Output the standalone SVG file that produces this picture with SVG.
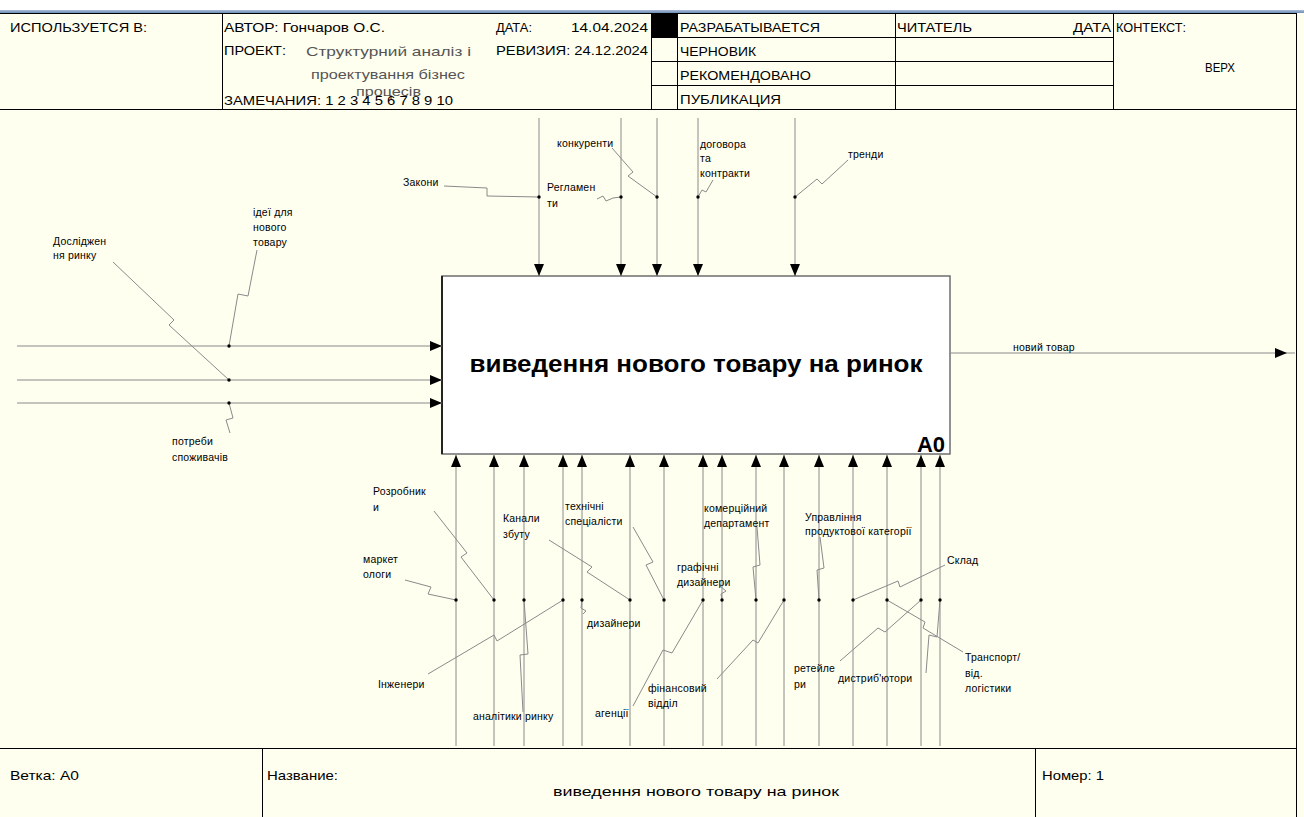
<svg xmlns="http://www.w3.org/2000/svg" width="1304" height="817" viewBox="0 0 1304 817">
<defs>
<marker id="ah" viewBox="0 0 12 10" refX="12" refY="5" markerWidth="12" markerHeight="10" markerUnits="userSpaceOnUse" orient="auto"><path d="M0,0 L12,5 L0,10 z" fill="#000"/></marker>
<linearGradient id="topbar" x1="0" y1="0" x2="0" y2="1"><stop offset="0" stop-color="#a9bcd6"/><stop offset="1" stop-color="#6f8db5"/></linearGradient>
</defs>
<style>
.hd{font-family:"Liberation Sans",Arial,sans-serif;font-size:13px;fill:#000}
.pj{font-family:"Liberation Sans",Arial,sans-serif;font-size:13.5px;fill:#555}
.lb{font-family:"Liberation Sans",Arial,sans-serif;font-size:10.5px;letter-spacing:0.2px;fill:#000}
.ar{fill:none;stroke:#8a8a8a;stroke-width:1;marker-end:url(#ah)}
.ld{fill:none;stroke:#8a8a8a;stroke-width:1}
.gl{stroke:#000;stroke-width:1;fill:none}
.dt{fill:#000}
</style>
<rect x="0" y="0" width="1304" height="817" fill="#fffff0"/>
<rect x="0" y="0" width="1304" height="10" fill="#ffffff"/>
<rect x="0" y="10" width="1304" height="3" fill="url(#topbar)"/>

<g id="header">
<line class="gl" x1="0" y1="13.5" x2="1296" y2="13.5"/>
<line class="gl" x1="0" y1="109.5" x2="1296" y2="109.5"/>
<line class="gl" x1="222.5" y1="13" x2="222.5" y2="109"/>
<rect x="651" y="13" width="26" height="24" fill="#000"/>
<line class="gl" x1="651.5" y1="13" x2="651.5" y2="109"/>
<line class="gl" x1="677.5" y1="13" x2="677.5" y2="109"/>
<line class="gl" x1="895.5" y1="13" x2="895.5" y2="109"/>
<line class="gl" x1="1113.5" y1="13" x2="1113.5" y2="109"/>
<line class="gl" x1="1296.5" y1="13" x2="1296.5" y2="817"/>
<line class="gl" x1="651" y1="37.5" x2="1113" y2="37.5"/>
<line class="gl" x1="651" y1="61.5" x2="1113" y2="61.5"/>
<line class="gl" x1="651" y1="85.5" x2="1113" y2="85.5"/>
<text class="hd" x="10" y="32" textLength="137" lengthAdjust="spacingAndGlyphs">ИСПОЛЬЗУЕТСЯ В:</text>
<text class="hd" x="224" y="32" textLength="161" lengthAdjust="spacingAndGlyphs">АВТОР: Гончаров О.С.</text>
<text class="hd" x="496" y="32" textLength="36" lengthAdjust="spacingAndGlyphs">ДАТА:</text>
<text class="hd" x="571" y="32" textLength="77" lengthAdjust="spacingAndGlyphs">14.04.2024</text>
<text class="hd" x="224" y="55" textLength="62" lengthAdjust="spacingAndGlyphs">ПРОЕКТ:</text>
<text class="pj" x="306" y="56" textLength="165" lengthAdjust="spacingAndGlyphs">Структурний аналіз і</text>
<text class="pj" x="311" y="79" textLength="154" lengthAdjust="spacingAndGlyphs">проектування бізнес</text>
<text class="pj" x="356" y="96" textLength="65" lengthAdjust="spacingAndGlyphs">процесів</text>
<text class="hd" x="224" y="105" textLength="229" lengthAdjust="spacingAndGlyphs">ЗАМЕЧАНИЯ: 1 2 3 4 5 6 7 8 9 10</text>
<text class="hd" x="496" y="55" textLength="152" lengthAdjust="spacingAndGlyphs">РЕВИЗИЯ: 24.12.2024</text>
<text class="hd" x="680" y="32" textLength="140" lengthAdjust="spacingAndGlyphs">РАЗРАБАТЫВАЕТСЯ</text>
<text class="hd" x="680" y="56" textLength="76" lengthAdjust="spacingAndGlyphs">ЧЕРНОВИК</text>
<text class="hd" x="680" y="80" textLength="131" lengthAdjust="spacingAndGlyphs">РЕКОМЕНДОВАНО</text>
<text class="hd" x="680" y="104" textLength="101" lengthAdjust="spacingAndGlyphs">ПУБЛИКАЦИЯ</text>
<text class="hd" x="897" y="32" textLength="75" lengthAdjust="spacingAndGlyphs">ЧИТАТЕЛЬ</text>
<text class="hd" x="1073" y="32" textLength="38" lengthAdjust="spacingAndGlyphs">ДАТА</text>
<text class="hd" x="1116" y="32" textLength="70" lengthAdjust="spacingAndGlyphs">КОНТЕКСТ:</text>
<text class="hd" x="1205" y="72" textLength="30" lengthAdjust="spacingAndGlyphs">ВЕРХ</text>
</g>

<g id="A0">
<rect x="442" y="276" width="508" height="178" fill="#ffffff" stroke="#6e6e6e" stroke-width="1.5"/>
<line x1="442" y1="276" x2="442" y2="454" stroke="#000" stroke-width="1.5"/>
<text x="696" y="372" text-anchor="middle" textLength="453" lengthAdjust="spacingAndGlyphs" font-family="Liberation Sans,Arial,sans-serif" font-weight="bold" font-size="23">виведення нового товару на ринок</text>
<text x="945" y="452" text-anchor="end" font-family="Liberation Sans,Arial,sans-serif" font-weight="bold" font-size="22">A0</text>
</g>

<g id="connectors">
<path class="ar" d="M17,346 H442"/>
<path class="ar" d="M17,380 H442"/>
<path class="ar" d="M17,403 H442"/>
<path class="ar" d="M950,353 H1287"/>
<path class="ld" d="M1287,353 H1295"/>
<path class="ar" d="M539,118 V276"/>
<path class="ar" d="M621,118 V276"/>
<path class="ar" d="M657,118 V276"/>
<path class="ar" d="M698,118 V276"/>
<path class="ar" d="M795,118 V276"/>
<path class="ar" d="M456,746 V455"/>
<path class="ar" d="M494,746 V455"/>
<path class="ar" d="M524,746 V455"/>
<path class="ar" d="M563,746 V455"/>
<path class="ar" d="M582,746 V455"/>
<path class="ar" d="M630,746 V455"/>
<path class="ar" d="M664,746 V455"/>
<path class="ar" d="M703,746 V455"/>
<path class="ar" d="M722,746 V455"/>
<path class="ar" d="M756,746 V455"/>
<path class="ar" d="M784,746 V455"/>
<path class="ar" d="M819,746 V455"/>
<path class="ar" d="M853,746 V455"/>
<path class="ar" d="M887,746 V455"/>
<path class="ar" d="M921,746 V455"/>
<path class="ar" d="M940,746 V455"/>
<path class="ld" d="M257,250 L248,296 L238,294 L229,346"/>
<path class="ld" d="M113,262 L174,320 L169,325 L229,380"/>
<path class="ld" d="M229,403 L233,418 L226,420 L230,433"/>
<path class="ld" d="M444,186 L487,188 L487,196 L539,197"/>
<path class="ld" d="M597,199 L603,196 L606,201 L613,198 L621,197"/>
<path class="ld" d="M612,148 L633,172 L628,176 L657,197"/>
<path class="ld" d="M713,180 L706,192 L702,190 L698,197"/>
<path class="ld" d="M848,160 L822,184 L817,179 L795,197"/>
<path class="ld" d="M434,511 L467,553 L461,557 L494,600"/>
<path class="ld" d="M405,580 L431,587 L428,594 L456,600"/>
<path class="ld" d="M549,540 L592,567 L587,572 L630,600"/>
<path class="ld" d="M633,527 L653,562 L646,565 L664,600"/>
<path class="ld" d="M428,674 L494,635 L497,641 L563,600"/>
<path class="ld" d="M524,600 L528,654 L520,655 L523,712"/>
<path class="ld" d="M582,600 L581,608 L586,611 L583,614"/>
<path class="ld" d="M633,706 L663,650 L672,653 L703,600"/>
<path class="ld" d="M720,586 L726,591 L721,594 L722,600"/>
<path class="ld" d="M757,527 L760,565 L753,567 L756,600"/>
<path class="ld" d="M717,679 L753,640 L758,643 L784,600"/>
<path class="ld" d="M820,537 L824,568 L817,570 L819,600"/>
<path class="ld" d="M945,565 L900,587 L898,581 L853,600"/>
<path class="ld" d="M840,661 L878,628 L885,632 L921,600"/>
<path class="ld" d="M926,673 L929,635 L937,637 L940,600"/>
<path class="ld" d="M887,600 L925,622 L923,628 L963,652"/>
<g class="dt">
<circle cx="229" cy="346" r="1.7"/><circle cx="229" cy="380" r="1.7"/><circle cx="229" cy="403" r="1.7"/>
<circle cx="539" cy="197" r="1.7"/><circle cx="621" cy="197" r="1.7"/><circle cx="657" cy="197" r="1.7"/><circle cx="698" cy="197" r="1.7"/><circle cx="795" cy="197" r="1.7"/>
<circle cx="456" cy="600" r="1.7"/><circle cx="494" cy="600" r="1.7"/><circle cx="524" cy="600" r="1.7"/><circle cx="563" cy="600" r="1.7"/><circle cx="582" cy="600" r="1.7"/><circle cx="630" cy="600" r="1.7"/><circle cx="664" cy="600" r="1.7"/><circle cx="703" cy="600" r="1.7"/><circle cx="722" cy="600" r="1.7"/><circle cx="756" cy="600" r="1.7"/><circle cx="784" cy="600" r="1.7"/><circle cx="819" cy="600" r="1.7"/><circle cx="853" cy="600" r="1.7"/><circle cx="887" cy="600" r="1.7"/><circle cx="921" cy="600" r="1.7"/><circle cx="940" cy="600" r="1.7"/>
</g>
</g>

<g id="labels">
<text class="lb" x="1013" y="351">новий товар</text>
<text class="lb" x="253" y="216">ідеї для</text>
<text class="lb" x="253" y="231">нового</text>
<text class="lb" x="253" y="246">товару</text>
<text class="lb" x="53" y="245">Дослiджен</text>
<text class="lb" x="53" y="259">ня ринку</text>
<text class="lb" x="172" y="445">потреби</text>
<text class="lb" x="172" y="461">споживачів</text>
<text class="lb" x="403" y="186">Закони</text>
<text class="lb" x="547" y="191">Регламен</text>
<text class="lb" x="547" y="207">ти</text>
<text class="lb" x="557" y="147">конкуренти</text>
<text class="lb" x="700" y="148">договора</text>
<text class="lb" x="700" y="162">та</text>
<text class="lb" x="700" y="177">контракти</text>
<text class="lb" x="848" y="158">тренди</text>
<text class="lb" x="373" y="495">Розробник</text>
<text class="lb" x="373" y="511">и</text>
<text class="lb" x="363" y="563">маркет</text>
<text class="lb" x="363" y="578">ологи</text>
<text class="lb" x="503" y="522">Канали</text>
<text class="lb" x="503" y="538">збуту</text>
<text class="lb" x="565" y="510">технічні</text>
<text class="lb" x="565" y="525">спеціалісти</text>
<text class="lb" x="378" y="688">Інженери</text>
<text class="lb" x="473" y="720">аналітики ринку</text>
<text class="lb" x="587" y="627">дизайнери</text>
<text class="lb" x="595" y="717">агенції</text>
<text class="lb" x="677" y="571">графічні</text>
<text class="lb" x="677" y="586">дизайнери</text>
<text class="lb" x="704" y="512">комерційний</text>
<text class="lb" x="704" y="527">департамент</text>
<text class="lb" x="648" y="692">фінансовий</text>
<text class="lb" x="648" y="707">відділ</text>
<text class="lb" x="805" y="521">Управління</text>
<text class="lb" x="805" y="535">продуктової категорії</text>
<text class="lb" x="947" y="564">Склад</text>
<text class="lb" x="794" y="672">ретейле</text>
<text class="lb" x="794" y="688">ри</text>
<text class="lb" x="838" y="682">дистриб'ютори</text>
<text class="lb" x="965" y="661">Транспорт/</text>
<text class="lb" x="965" y="677">від.</text>
<text class="lb" x="965" y="692">логістики</text>
</g>

<g id="footer">
<line class="gl" x1="0" y1="748.5" x2="1296" y2="748.5"/>
<line class="gl" x1="262.5" y1="748" x2="262.5" y2="817"/>
<line class="gl" x1="1035.5" y1="748" x2="1035.5" y2="817"/>
<text class="hd" x="10" y="780" textLength="69" lengthAdjust="spacingAndGlyphs">Ветка: A0</text>
<text class="hd" x="267" y="780" textLength="71" lengthAdjust="spacingAndGlyphs">Название:</text>
<text class="hd" x="696" y="796" text-anchor="middle" font-size="14" textLength="286" lengthAdjust="spacingAndGlyphs">виведення нового товару на ринок</text>
<text class="hd" x="1042" y="780" textLength="62" lengthAdjust="spacingAndGlyphs">Номер: 1</text>
</g>
</svg>
